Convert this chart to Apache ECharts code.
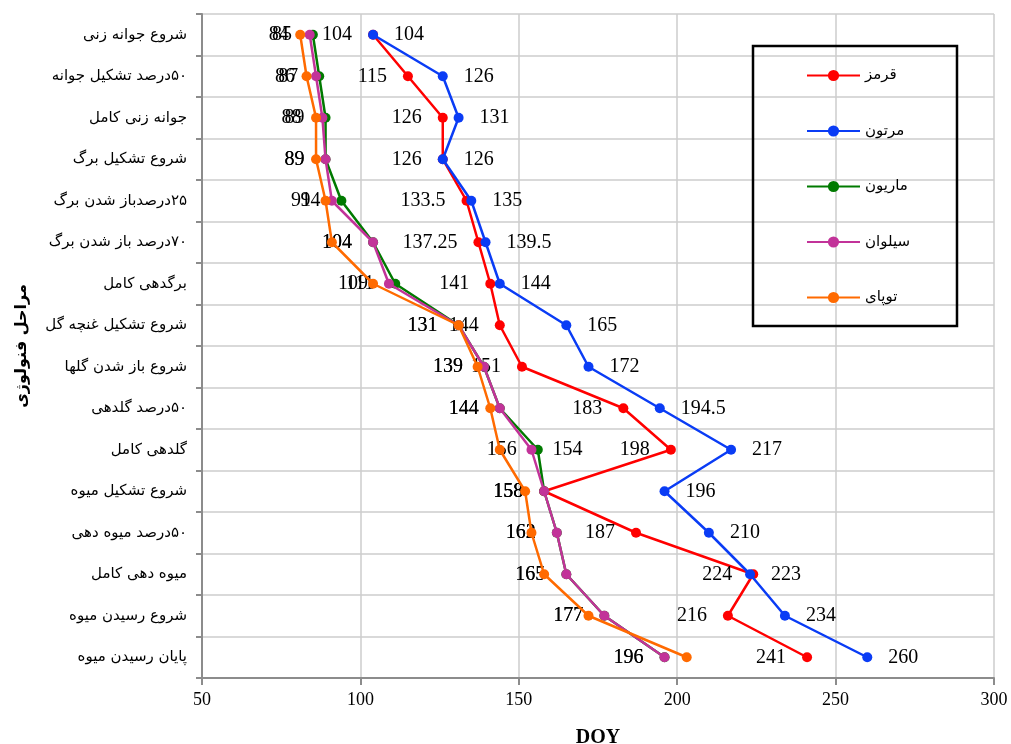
<!DOCTYPE html>
<html>
<head>
<meta charset="utf-8">
<script src="https://cdn.jsdelivr.net/npm/echarts@6/dist/echarts.min.js"></script>
<style>
html,body{margin:0;padding:0;background:#fff;}
#chart{width:1011px;height:744px;}
</style>
</head>
<body>
<div id="chart"></div>
<script>
const categories = [
  'شروع جوانه زنی',
  '۵۰درصد تشکیل جوانه',
  'جوانه زنی کامل',
  'شروع تشکیل برگ',
  '۲۵درصدباز شدن برگ',
  '۷۰درصد باز شدن برگ',
  'برگدهی کامل',
  'شروع تشکیل غنچه گل',
  'شروع باز شدن گلها',
  '۵۰درصد گلدهی',
  'گلدهی کامل',
  'شروع تشکیل میوه',
  '۵۰درصد میوه دهی',
  'میوه دهی کامل',
  'شروع رسیدن میوه',
  'پایان رسیدن میوه'
];
const seriesNames = ['قرمز', 'مرتون', 'ماریون', 'سیلوان', 'توپای'];
const ghermez = [104, 115, 126, 126, 133.5, 137.25, 141, 144, 151, 183, 198, 158, 187, 224, 216, 241];
const merton  = [104, 126, 131, 126, 135, 139.5, 144, 165, 172, 194.5, 217, 196, 210, 223, 234, 260];
const marion  = [85, 87, 89, 89, 94, 104, 111, 131, 139, 144, 156, 158, 162, 165, 177, 196];
const silvan  = [84, 86, 88, 89, 91, 104, 109, 131, 139, 144, 154, 158, 162, 165, 177, 196];
const tupay   = [81, 83, 86, 86, 89, 91, 104, 131, 137, 141, 144, 152, 154, 158, 172, 203];
const xTicks = [50, 100, 150, 200, 250, 300];

const colors = ['#ff0000', '#0a3cf5', '#007a00', '#c23399', '#ff6a00'];
const numFont = 'Liberation Serif, Times New Roman, serif';
const faFont = 'DejaVu Sans, Noto Sans, sans-serif';
const RLM = '\u200F';

function mkSeries(idx, values, labelPos, overrides) {
  return {
    name: seriesNames[idx],
    type: 'line',
    data: values.map((v, i) => {
      const item = { value: [v, categories[i]] };
      if (overrides && overrides[i]) item.label = { position: overrides[i] };
      return item;
    }),
    symbol: 'circle',
    symbolSize: 10,
    itemStyle: { color: colors[idx] },
    lineStyle: { color: colors[idx], width: 2.5 },
    z: 2 + idx,
    label: labelPos ? {
      show: true,
      position: labelPos,
      distance: 16,
      color: '#000',
      fontFamily: numFont,
      fontSize: 20,
      formatter: p => String(p.value[0])
    } : { show: false },
    animation: false
  };
}

const chart = echarts.init(document.getElementById('chart'), null, { renderer: 'canvas' });
chart.setOption({
  backgroundColor: '#fff',
  animation: false,
  grid: { left: 202, right: 17, top: 14, bottom: 66, containLabel: false, outerBoundsMode: 'none' },
  legend: {
    data: seriesNames.map(n => ({ name: n })),
    formatter: n => RLM + n,
    orient: 'vertical',
    left: 753,
    top: 46,
    padding: [22, 47, 21, 53],
    itemGap: 40.5,
    itemWidth: 53,
    itemHeight: 14,
    borderColor: '#000',
    borderWidth: 2.5,
    selectedMode: false,
    textStyle: { fontFamily: faFont, fontSize: 15, color: '#000' }
  },
  xAxis: {
    type: 'value',
    min: xTicks[0],
    max: xTicks[xTicks.length - 1],
    interval: 50,
    name: 'DOY',
    nameLocation: 'middle',
    nameGap: 50,
    nameTextStyle: { fontFamily: numFont, fontSize: 20, fontWeight: 'bold', color: '#000' },
    axisLine: { show: true, lineStyle: { color: '#8c8c8c', width: 2 } },
    axisTick: { show: true, length: 7, lineStyle: { color: '#8c8c8c', width: 2 } },
    axisLabel: { fontFamily: numFont, fontSize: 18, color: '#000', margin: 13 },
    splitLine: { show: true, lineStyle: { color: '#cccccc', width: 1.5 } }
  },
  yAxis: {
    type: 'category',
    data: categories,
    inverse: true,
    boundaryGap: true,
    name: RLM + 'مراحل فنولوژی',
    nameLocation: 'middle',
    nameRotate: 90,
    nameGap: 172,
    nameTextStyle: { fontFamily: faFont, fontSize: 16, fontWeight: 'bold', color: '#000' },
    axisLine: { show: true, lineStyle: { color: '#8c8c8c', width: 2 } },
    axisTick: { show: true, length: 6, lineStyle: { color: '#8c8c8c', width: 2 } },
    axisLabel: { fontFamily: faFont, fontSize: 15, color: '#000', margin: 15, formatter: v => RLM + v },
    splitLine: { show: true, lineStyle: { color: '#cccccc', width: 1.5 } }
  },
  series: [
    mkSeries(0, ghermez, 'left'),
    mkSeries(1, merton, 'right'),
    mkSeries(2, marion, 'left'),
    mkSeries(3, silvan, 'left', { 10: 'right' }),
    mkSeries(4, tupay, null)
  ]
});
</script>
</body>
</html>
